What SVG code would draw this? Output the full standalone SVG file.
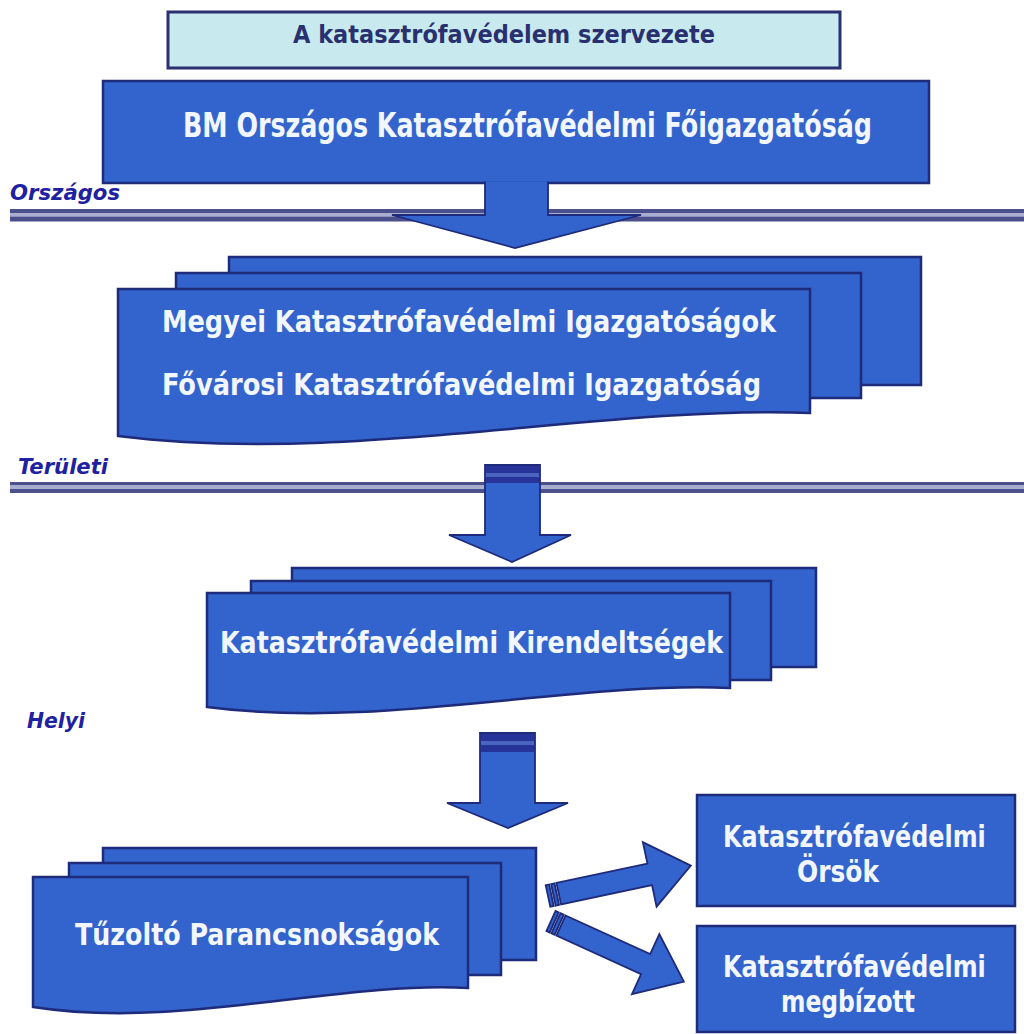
<svg xmlns="http://www.w3.org/2000/svg" width="1024" height="1034" viewBox="0 0 1024 1034">
<style>
.box{fill:#3363cc;stroke:#1e2a7a;stroke-width:2.5;stroke-linejoin:miter}
.wt{font-family:"DejaVu Sans Condensed","DejaVu Sans","Liberation Sans",sans-serif;font-weight:bold;fill:#f2f7ff}
.lbl{font-family:"DejaVu Sans Condensed","DejaVu Sans","Liberation Sans",sans-serif;font-weight:bold;font-style:italic;fill:#1e22a0;font-size:22px}
.dk{fill:#4b4f8c}
.lt{fill:#a9aed0}
.arr{fill:#3363cc;stroke:#1e2a7a;stroke-width:1.8;stroke-linejoin:miter}
.band{fill:#26349a}
.bandl{fill:#4a64c0}
</style>
<rect x="0" y="0" width="1024" height="1034" fill="#ffffff"/>

<g id="levels">
  <rect class="dk" x="10" y="209" width="1014" height="4"/>
  <rect class="lt" x="10" y="213" width="1014" height="3.5"/>
  <rect class="dk" x="10" y="216.5" width="1014" height="5"/>
  <rect class="dk" x="10" y="482" width="1014" height="3.5"/>
  <rect class="lt" x="10" y="485.5" width="1014" height="3.5"/>
  <rect class="dk" x="10" y="489" width="1014" height="4"/>
  <text class="lbl" x="10" y="200" textLength="110" lengthAdjust="spacingAndGlyphs">Országos</text>
  <text class="lbl" x="18" y="474" textLength="90" lengthAdjust="spacingAndGlyphs">Területi</text>
  <text class="lbl" x="27" y="728" textLength="58" lengthAdjust="spacingAndGlyphs">Helyi</text>
</g>

<g id="title">
  <rect x="168" y="12" width="672" height="56" fill="#c8eaee" stroke="#2b3170" stroke-width="3"/>
  <text x="293" y="43" font-family="DejaVu Sans Condensed, DejaVu Sans, Liberation Sans, sans-serif" font-weight="bold" font-size="25" fill="#283070" textLength="422" lengthAdjust="spacingAndGlyphs">A katasztrófavédelem szervezete</text>
</g>

<g id="bm">
  <rect class="box" x="103" y="81" width="826" height="102"/>
  <text class="wt" x="183" y="137" font-size="34" textLength="689" lengthAdjust="spacingAndGlyphs">BM Országos Katasztrófavédelmi Főigazgatóság</text>
</g>

<g id="megyei">
  <rect class="box" x="229" y="257" width="692" height="128"/>
  <rect class="box" x="176" y="273" width="685" height="125"/>
  <path class="box" d="M118 289 H810 V413 C600 405 350 465 118 436 Z"/>
  <text class="wt" x="162" y="332" font-size="31" textLength="614" lengthAdjust="spacingAndGlyphs">Megyei Katasztrófavédelmi Igazgatóságok</text>
  <text class="wt" x="162" y="395" font-size="31" textLength="599" lengthAdjust="spacingAndGlyphs">Fővárosi Katasztrófavédelmi Igazgatóság</text>
</g>

<g id="kirendeltsegek">
  <rect class="box" x="292" y="568" width="524" height="99"/>
  <rect class="box" x="251" y="581" width="520" height="99"/>
  <path class="box" d="M207 593 H730 V688 C570 681 382 730 207 707 Z"/>
  <text class="wt" x="220" y="653" font-size="30" textLength="503" lengthAdjust="spacingAndGlyphs">Katasztrófavédelmi Kirendeltségek</text>
</g>

<g id="tuzolto">
  <rect class="box" x="103" y="848" width="433" height="112"/>
  <rect class="box" x="69" y="863" width="432" height="112"/>
  <path class="box" d="M33 877 H468 V988 C335 981 179 1030 33 1007 Z"/>
  <text class="wt" x="75" y="945" font-size="31" textLength="364" lengthAdjust="spacingAndGlyphs">Tűzoltó Parancsnokságok</text>
</g>

<g id="orsok">
  <rect class="box" x="697" y="795" width="318" height="111"/>
  <text class="wt" transform="translate(723 847) scale(0.87 1)" x="0" y="0" font-size="31" textLength="302" lengthAdjust="spacingAndGlyphs">Katasztrófavédelmi</text>
  <text class="wt" x="797" y="882" font-size="31" textLength="82" lengthAdjust="spacingAndGlyphs">Örsök</text>
</g>

<g id="megbizott">
  <rect class="box" x="697" y="926" width="318" height="106"/>
  <text class="wt" transform="translate(723 977) scale(0.87 1)" x="0" y="0" font-size="31" textLength="302" lengthAdjust="spacingAndGlyphs">Katasztrófavédelmi</text>
  <text class="wt" x="781" y="1012" font-size="31" textLength="134" lengthAdjust="spacingAndGlyphs">megbízott</text>
</g>

<g id="connectors">
  <path class="arr" d="M485 181.5 V215 H392 L515 248 L641 215 H548 V181.5"/>

  <path class="arr" d="M485 465 H540 V535 H571 L512 562 L449 535 H485 Z"/>
  <rect class="band" x="486" y="466" width="53" height="7"/>
  <rect class="bandl" x="486" y="473" width="53" height="4"/>
  <rect class="band" x="486" y="477" width="53" height="6"/>

  <path class="arr" d="M480 733 H535 V803 H568 L508 828 L447 803 H480 Z"/>
  <rect class="band" x="481" y="734" width="53" height="7"/>
  <rect class="bandl" x="481" y="741" width="53" height="4"/>
  <rect class="band" x="481" y="745" width="53" height="7"/>

  <g transform="translate(548 896) rotate(-12)">
    <rect class="arr" x="0" y="-11" width="3.5" height="22"/>
    <rect class="arr" x="5.5" y="-11" width="3.5" height="22"/>
    <path class="arr" d="M11 -11 H104 V-33 L146 0 L104 33 V11 H11 Z"/>
  </g>
  <g transform="translate(551 921) rotate(24.5)">
    <rect class="arr" x="0" y="-11" width="3.5" height="22"/>
    <rect class="arr" x="5.5" y="-11" width="3.5" height="22"/>
    <path class="arr" d="M11 -11 H104 V-33 L146 0 L104 33 V11 H11 Z"/>
  </g>
</g>
</svg>
